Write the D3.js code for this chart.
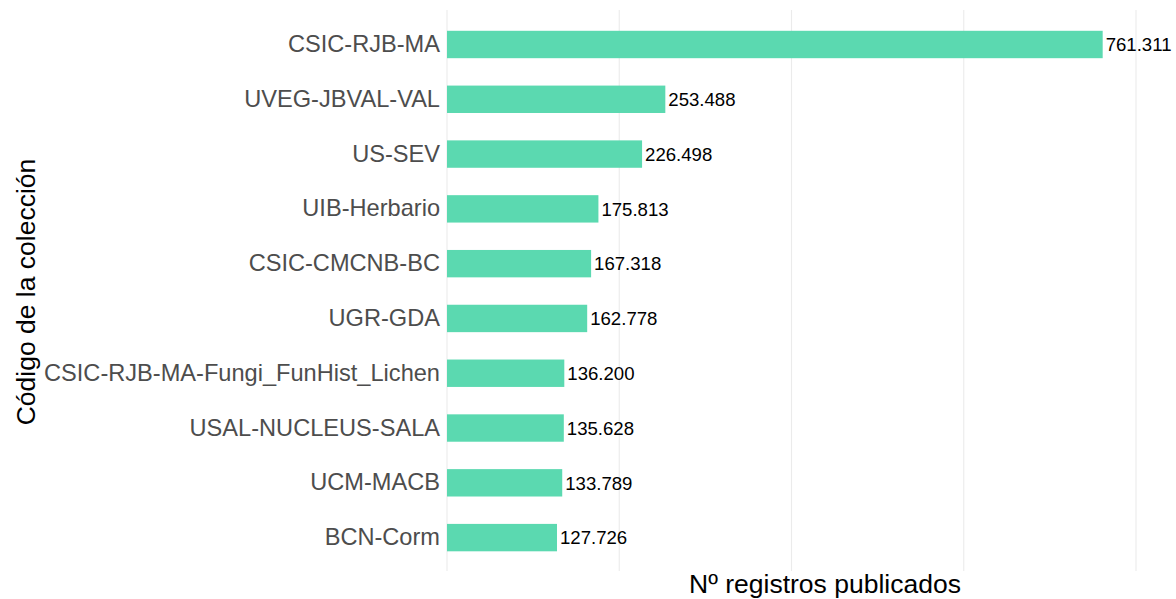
<!DOCTYPE html>
<html><head><meta charset="utf-8">
<script src="https://cdn.jsdelivr.net/npm/d3@7"></script>
<style>body{margin:0;background:#fff}svg{display:block;font-family:"Liberation Sans",Arial,sans-serif}</style>
</head><body>
<svg id="c" width="1176" height="599"></svg>
<script>
const categories = ["CSIC-RJB-MA","UVEG-JBVAL-VAL","US-SEV","UIB-Herbario","CSIC-CMCNB-BC","UGR-GDA","CSIC-RJB-MA-Fungi_FunHist_Lichen","USAL-NUCLEUS-SALA","UCM-MACB","BCN-Corm"];
const values = [761311,253488,226498,175813,167318,162778,136200,135628,133789,127726];
const labels = ["761.311","253.488","226.498","175.813","167.318","162.778","136.200","135.628","133.789","127.726"];
const xTicks = [0,200000,400000,600000,800000];

const svg = d3.select("#c");
const x = d3.scaleLinear().domain([0,800000]).range([447,1136]);
const y = d3.scaleBand().domain(categories).range([17.1,565]).paddingInner(0.5).paddingOuter(0.25);

svg.append("g").selectAll("line").data(xTicks).join("line")
  .attr("x1",d=>x(d)).attr("x2",d=>x(d)).attr("y1",10).attr("y2",571)
  .attr("stroke","#ebebeb").attr("stroke-width",1.1);

svg.append("g").selectAll("rect").data(values).join("rect")
  .attr("x",x(0)).attr("y",(d,i)=>y(categories[i]))
  .attr("width",d=>x(d)-x(0)).attr("height",y.bandwidth())
  .attr("fill","#58d8ae").attr("fill-opacity",0.98);

svg.append("g").selectAll("text").data(values).join("text")
  .attr("x",d=>x(d)+3).attr("y",(d,i)=>y(categories[i])+y.bandwidth()/2)
  .attr("dy","0.36em").attr("font-size",18.6).attr("fill","#000")
  .text((d,i)=>labels[i]);

const ya = svg.append("g").attr("transform","translate(447,0)")
  .call(d3.axisLeft(y).tickSize(0).tickPadding(7));
ya.select(".domain").remove();
ya.selectAll("text").attr("font-size",23.6).attr("fill","#4d4d4d").attr("font-family","Liberation Sans, Arial, sans-serif");

svg.append("text").attr("x",825).attr("y",593).attr("text-anchor","middle")
  .attr("font-size",26.5).attr("fill","#000").text("Nº registros publicados");
svg.append("text").attr("transform","translate(35,292) rotate(-90)").attr("text-anchor","middle")
  .attr("font-size",26.5).attr("fill","#000").text("Código de la colección");
</script>
</body></html>
